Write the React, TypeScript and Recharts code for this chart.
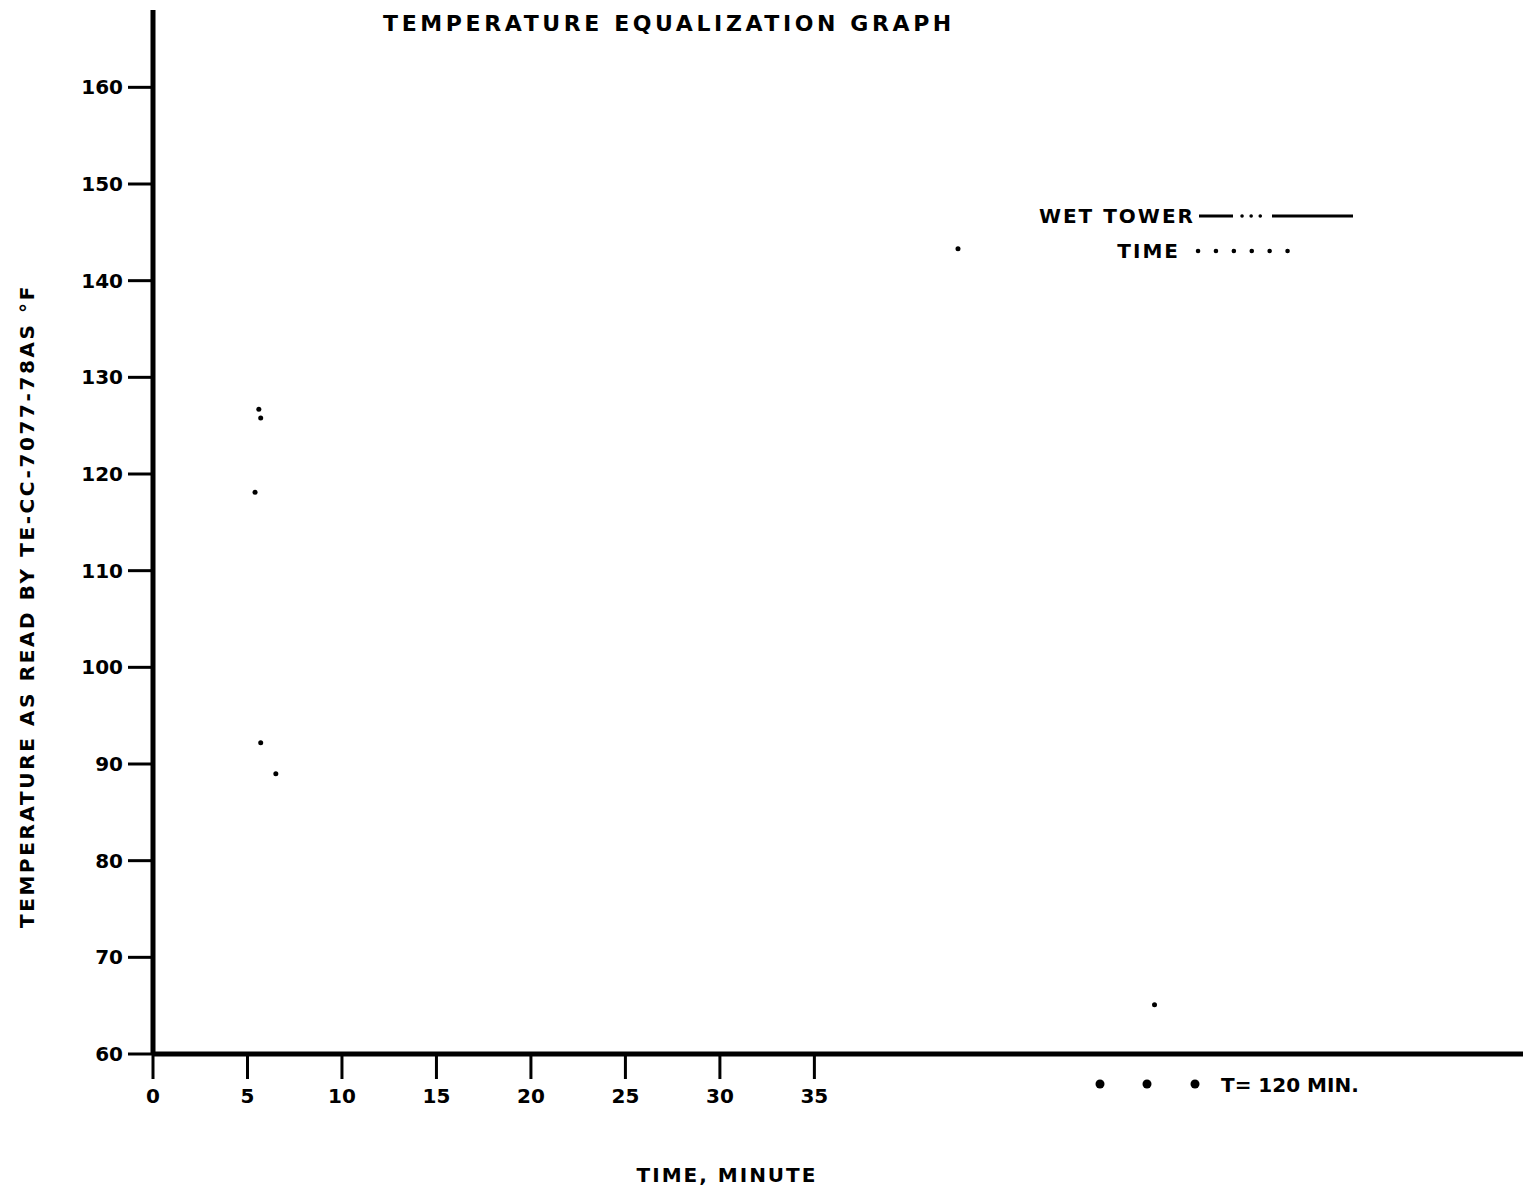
import React from 'react';
import { ScatterChart, Scatter, XAxis, YAxis } from 'recharts';

// axis ticks
const timeTicks = [0, 5, 10, 15, 20, 25, 30, 35];
const tempTicks = [60, 70, 80, 90, 100, 110, 120, 130, 140, 150, 160];

// stray marks visible inside the plot (minutes, °F)
const speckTime = [5.6, 5.7, 5.4, 5.7, 6.5, 42.6, 53.0];
const speckTemp = [126.7, 125.8, 118.1, 92.2, 89.0, 143.3, 65.1];

const specks = speckTime.map((t, i) => ({ time: t, temp: speckTemp[i] }));

const FONT = '"DejaVu Sans", sans-serif';

const App: React.FC = () => {
  return (
    <div style={{ position: 'absolute', left: 0, top: 0, width: 1523, height: 1192, background: '#fff' }}>
      <ScatterChart width={1523} height={1192} margin={{ top: 10, right: 0, bottom: 0, left: 0 }}>
        <XAxis
          type="number"
          dataKey="time"
          domain={[0, 72.5]}
          ticks={timeTicks}
          interval={0}
          height={138}
          tickSize={25}
          tickMargin={10}
          axisLine={{ stroke: '#000', strokeWidth: 5 }}
          tickLine={{ stroke: '#000', strokeWidth: 3 }}
          tick={{ fill: '#000', fontSize: 20, fontWeight: 'bold', fontFamily: FONT }}
        />
        <YAxis
          type="number"
          dataKey="temp"
          domain={[60, 168]}
          ticks={tempTicks}
          interval={0}
          width={153}
          tickSize={25}
          tickMargin={5}
          axisLine={{ stroke: '#000', strokeWidth: 5 }}
          tickLine={{ stroke: '#000', strokeWidth: 3 }}
          tick={{ fill: '#000', fontSize: 20, fontWeight: 'bold', fontFamily: FONT }}
        />
        <Scatter data={specks} fill="#000" shape={(p: any) => <circle cx={p.cx} cy={p.cy} r={2.5} fill="#000" />} isAnimationActive={false} />
      </ScatterChart>

      <svg width={1523} height={1192} style={{ position: 'absolute', left: 0, top: 0, pointerEvents: 'none' }}>
        <g fontFamily={FONT} fontWeight="bold" fill="#000">
          <text x={669} y={31} fontSize={22} textAnchor="middle" letterSpacing={3.6}>
            TEMPERATURE EQUALIZATION GRAPH
          </text>
          <text x={727} y={1182} fontSize={20} textAnchor="middle" letterSpacing={2}>
            TIME, MINUTE
          </text>
          <text
            x={0}
            y={0}
            fontSize={20}
            textAnchor="middle"
            letterSpacing={2.6}
            transform="translate(34 606) rotate(-90)"
          >
            TEMPERATURE AS READ BY TE-CC-7077-78AS °F
          </text>

          {/* legend */}
          <text x={1195} y={223} fontSize={20} textAnchor="end" letterSpacing={2}>WET TOWER</text>
          <line x1={1199} y1={216} x2={1233} y2={216} stroke="#000" strokeWidth={3} />
          <line x1={1242} y1={216} x2={1264} y2={216} stroke="#000" strokeWidth={3.5} strokeDasharray="0.1 9" strokeLinecap="round" />
          <line x1={1272} y1={216} x2={1353} y2={216} stroke="#000" strokeWidth={3} />
          <text x={1180} y={258} fontSize={20} textAnchor="end" letterSpacing={2}>TIME</text>
          <line x1={1198} y1={251} x2={1290} y2={251} stroke="#000" strokeWidth={4.5} strokeDasharray="0.1 17.8" strokeLinecap="round" />

          {/* break marks to T = 120 min */}
          <circle cx={1100} cy={1084} r={4.5} />
          <circle cx={1147} cy={1084} r={4.5} />
          <circle cx={1195} cy={1084} r={4.5} />
          <text x={1221} y={1092} fontSize={20}>T= 120 MIN.</text>
        </g>
      </svg>
    </div>
  );
};

export default App;
